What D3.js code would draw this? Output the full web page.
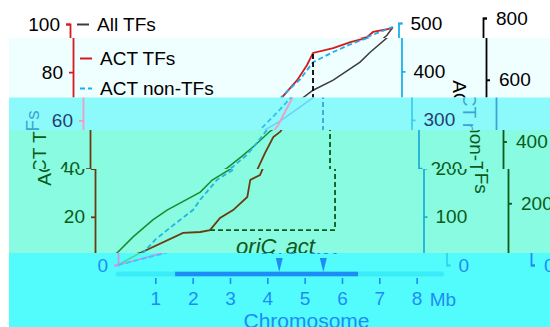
<!DOCTYPE html>
<html>
<head>
<meta charset="utf-8">
<script src="https://cdn.jsdelivr.net/npm/d3@7"></script>
<style>
  html, body { margin: 0; padding: 0; background: #fff; }
  svg { display: block; font-family: "Liberation Sans", Arial, sans-serif; }
</style>
</head>
<body>
<div id="chart"></div>
<script>
// cumulative counts along the chromosome, [position in Mb, count]
const actTFs = [[0, 0], [1.21, 5.0], [2.36, 13.3], [2.82, 13.7], [3.08, 14.5], [3.35, 19.5],
  [3.70, 22.8], [4.08, 28.2], [4.16, 35.3], [4.42, 37.3], [4.50, 40.2], [4.69, 46.5],
  [4.91, 53.1], [5.09, 55.2], [5.23, 58.1], [5.58, 68.5], [5.63, 70.1], [6.01, 76.8],
  [6.27, 83.0], [6.43, 88.0], [6.97, 90.0], [7.43, 92.5], [7.96, 94.6], [8.12, 96.7], [8.65, 98.3]];
const actNonTFs = [[0, 0], [1.29, 25], [1.61, 52], [2.01, 77], [2.63, 114], [2.82, 135],
  [3.27, 176], [3.83, 203], [4.21, 228], [4.50, 255], [4.75, 280], [5.15, 311], [5.63, 351],
  [6.09, 384], [6.43, 419], [6.97, 440], [7.43, 456], [7.96, 471], [8.65, 492]];
const allTFs = [[0, 0], [0.59, 39], [1.02, 91], [1.55, 146], [1.93, 178], [2.82, 236],
  [3.14, 275], [3.67, 314], [4.05, 350], [4.42, 388], [4.83, 434], [5.28, 466], [6.14, 540],
  [6.43, 566], [6.97, 599], [7.69, 657], [7.96, 689], [8.49, 744], [8.65, 770]];

// dashed guide: ACT TFs level at the region start, carried to the region end
const guide = [[3.08, 14.5], [6.43, 14.5], [6.43, 88.0]];

const chromosomeLength = 8.67;
const coreRegion = [1.53, 6.43];
const landmarks = [{ name: "oriC", mb: 4.32 }, { name: "act", mb: 5.50 }];

const xTicks = [1, 2, 3, 4, 5, 6, 7, 8];
const leftTicks = [0, 20, 40, 60, 80, 100];
const rightTicks = [0, 100, 200, 300, 400, 500];
const farTicks = [0, 200, 400, 600, 800];
const legendLabels = ["All TFs", "ACT TFs", "ACT non-TFs"];

const W = 550, H = 327;
const FONT = "'Liberation Sans', Arial, sans-serif";

const x = d3.scaleLinear().domain([0, 8.8]).range([70, 398.5]);
const yL = d3.scaleLinear().domain([0, 100]).range([265, 24]);
const yR = d3.scaleLinear().domain([0, 500]).range([265, 23]);
const yF = d3.scaleLinear().domain([0, 800]).range([265, 18]);
const farAxisX = 483;

// colour sets for the horizontal strips
const palPlain = { text: "#000", black: "#000", red: "#d7191c", gray: "#3c3c3c", cyan: "#1aaeee",
  cyanAxis: "#1ab0ee", bar: "#000", barLight: "#bbb" };
const palAqua = { text: "#233f6f", black: "#3aa4d4", red: "#f09cc4", gray: "#6cd2f4", cyan: "#36bef0",
  cyanAxis: "#3ccff2", bar: "#3aa4d4", barLight: "#bff" };
const palMint = { text: "#0b5a1a", black: "#0b5a1a", red: "#6a3c10", gray: "#1a8a2e", cyan: "#22b4e4",
  cyanAxis: "#1eb0d8", bar: "#0b5a1a", barLight: "#9fe" };
const palBlue = { text: "#1e8cf4", black: "#1e8cf4", red: "#d890e8", gray: "#4cd88c", cyan: "#38c8f8",
  cyanAxis: "#34d4f0", bar: "#1e8cf4", barLight: "#3aecf8" };

const bands = [
  { y0: 0, y1: 38, x0: 0, dx: 0, bg: "#ffffff", pal: palPlain },
  { y0: 38, y1: 97.5, x0: 9, dx: 3, bg: "#effefe", pal: palPlain },
  { y0: 97.5, y1: 130, x0: 9, dx: 13, bg: "#8cfafa", pal: palAqua },
  { y0: 130, y1: 169, x0: 9, dx: 20, bg: "#88fbe0", pal: palMint },
  { y0: 169, y1: 253, x0: 9, dx: 25, bg: "#88fbe0", pal: palMint },
  { y0: 253, y1: H, x0: 9, dx: 48, bg: "#52fcfc", pal: palBlue }
];

function drawChart(g, p) {
  const axis = (gen, tx, stroke) => {
    const a = g.append("g").attr("transform", `translate(${tx},0)`).call(gen)
      .attr("font-size", 19).attr("font-family", FONT);
    a.selectAll("path, line").attr("stroke", stroke).attr("stroke-width", 1.8);
    a.selectAll("text").attr("fill", p.text);
  };
  axis(d3.axisLeft(yL).tickValues(leftTicks).tickSize(4).tickPadding(6), x(0), p.red);
  axis(d3.axisRight(yR).tickValues(rightTicks).tickSize(4).tickPadding(8), x.range()[1], p.cyanAxis);
  axis(d3.axisRight(yF).tickValues(farTicks).tickSize(4).tickPadding(9), farAxisX, p.black);

  g.append("text").attr("transform", "translate(26,148) rotate(-90)")
    .attr("text-anchor", "middle").attr("font-size", 19).attr("fill", p.black).text("ACT TFs");
  g.append("text").attr("transform", "translate(450,137) rotate(90)")
    .attr("text-anchor", "middle").attr("font-size", 19).attr("fill", p.black).text("ACT non-TFs");

  // legend
  const rowY = [24.5, 58.5, 88.5];
  const rowStyle = [[p.gray, null], [p.red, null], [p.cyan, "5,3"]];
  legendLabels.forEach((label, i) => {
    g.append("line").attr("x1", 77).attr("x2", 89).attr("y1", rowY[i]).attr("y2", rowY[i])
      .attr("stroke", rowStyle[i][0]).attr("stroke-width", 2).attr("stroke-dasharray", rowStyle[i][1]);
    g.append("text").attr("x", 97).attr("y", rowY[i] + 6.5).attr("font-size", 19)
      .attr("fill", p.text).text(label);
  });

  // cumulative curves
  const lineOn = y => d3.line().x(d => x(d[0])).y(d => y(d[1]));
  g.append("path").attr("d", lineOn(yF)(allTFs)).attr("fill", "none")
    .attr("stroke", p.gray).attr("stroke-width", 1.5);
  g.append("path").attr("d", lineOn(yL)(actTFs)).attr("fill", "none")
    .attr("stroke", p.red).attr("stroke-width", 1.8);
  g.append("path").attr("d", lineOn(yR)(actNonTFs)).attr("fill", "none")
    .attr("stroke", p.cyan).attr("stroke-width", 1.8).attr("stroke-dasharray", "5,3");
  g.append("path").attr("d", lineOn(yL)(guide)).attr("fill", "none")
    .attr("stroke", p.black).attr("stroke-width", 1.8).attr("stroke-dasharray", "5,3");

  // chromosome
  g.append("line").attr("x1", x(0)).attr("x2", x(chromosomeLength)).attr("y1", 274).attr("y2", 274)
    .attr("stroke", p.barLight).attr("stroke-width", 5).attr("stroke-linecap", "round");
  g.append("line").attr("x1", x(coreRegion[0])).attr("x2", x(coreRegion[1])).attr("y1", 274).attr("y2", 274)
    .attr("stroke", p.bar).attr("stroke-width", 4.5);

  const ax = g.append("g").attr("transform", "translate(0,278)")
    .call(d3.axisBottom(x).tickValues(xTicks).tickSize(6).tickPadding(8))
    .attr("font-size", 19).attr("font-family", FONT);
  ax.select(".domain").remove();
  ax.selectAll("line").attr("stroke", p.black).attr("stroke-width", 1.6);
  ax.selectAll("text").attr("fill", p.text);
  g.append("text").attr("x", x(8) + 13).attr("y", 305.5).attr("font-size", 19)
    .attr("fill", p.text).text("Mb");
  g.append("text").attr("x", x(5.05)).attr("y", 328).attr("text-anchor", "middle")
    .attr("font-size", 21).attr("fill", p.text).text("Chromosome");

  landmarks.forEach(m => {
    const cx = x(m.mb);
    g.append("path").attr("d", `M${cx - 3.5},258L${cx + 3.5},258L${cx},272Z`).attr("fill", p.bar);
    g.append("text").attr("x", cx).attr("y", 254).attr("text-anchor", "middle")
      .attr("font-size", 22).attr("font-style", "italic").attr("fill", p.black).text(m.name);
  });
}

const svg = d3.select("#chart").append("svg").attr("width", W).attr("height", H);
const defs = svg.append("defs");

bands.forEach((b, i) => {
  defs.append("clipPath").attr("id", "band" + i).append("rect")
    .attr("x", b.x0).attr("y", b.y0).attr("width", W - b.x0).attr("height", b.y1 - b.y0);
  svg.append("rect").attr("x", b.x0).attr("y", b.y0).attr("width", W - b.x0)
    .attr("height", b.y1 - b.y0).attr("fill", b.bg);
  const g = svg.append("g").attr("clip-path", `url(#band${i})`)
    .append("g").attr("transform", `translate(${b.dx},0)`);
  drawChart(g, b.pal);
});
</script>
</body>
</html>
